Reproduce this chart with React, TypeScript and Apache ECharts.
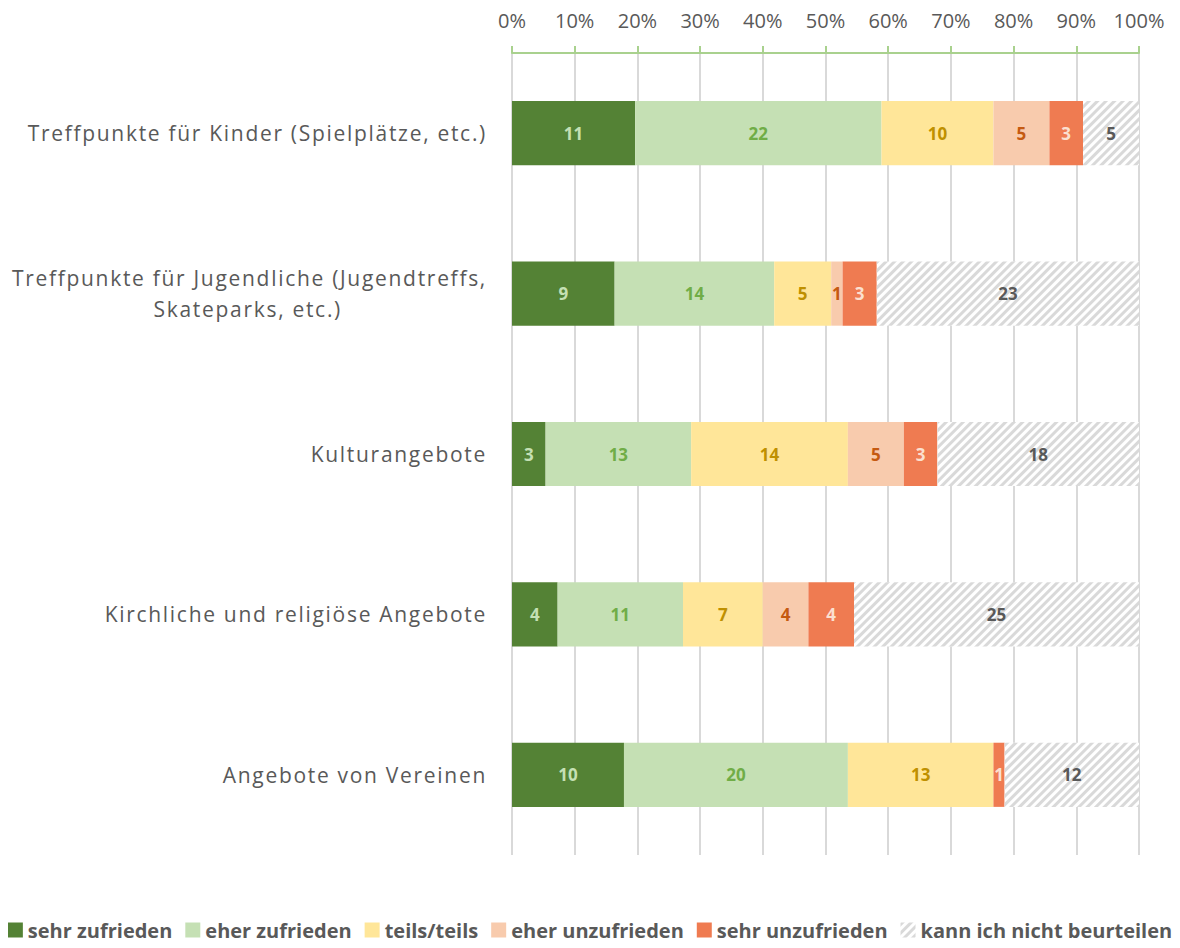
import React, { useEffect, useRef } from "react";
import * as echarts from "echarts";

const categories = [
  "Treffpunkte für Kinder (Spielplätze, etc.)",
  "Treffpunkte für Jugendliche (Jugendtreffs,\nSkateparks, etc.)",
  "Kulturangebote",
  "Kirchliche und religiöse Angebote",
  "Angebote von Vereinen",
];

const seriesNames = [
  "sehr zufrieden",
  "eher zufrieden",
  "teils/teils",
  "eher unzufrieden",
  "sehr unzufrieden",
  "kann ich nicht beurteilen",
];

const sehrZufrieden = [11, 9, 3, 4, 10];
const eherZufrieden = [22, 14, 13, 11, 20];
const teilsTeils = [10, 5, 14, 7, 13];
const eherUnzufrieden = [5, 1, 5, 4, 0];
const sehrUnzufrieden = [3, 3, 3, 4, 1];
const kannNicht = [5, 23, 18, 25, 12];

const tickLabels = ["0%", "10%", "20%", "30%", "40%", "50%", "60%", "70%", "80%", "90%", "100%"];

const counts = [sehrZufrieden, eherZufrieden, teilsTeils, eherUnzufrieden, sehrUnzufrieden, kannNicht];
const fillColors = ["#548235", "#C5E0B4", "#FFE699", "#F8CBAD", "#EF7B51", "#FFFFFF"];
const labelColors = ["#C5E0B4", "#70AD47", "#BF9000", "#C55A11", "#FBE0D0", "#595959"];

const totals = categories.map((_, i) => counts.reduce((s, arr) => s + arr[i], 0));

export default function App() {
  const ref = useRef<HTMLDivElement>(null);
  useEffect(() => {
    if (!ref.current) return;
    const chart = echarts.init(ref.current, undefined, { renderer: "svg" });
    const font = "'Open Sans', sans-serif";
    const catFont = "'Open Sans', Lato";
    const series = counts.map((arr, si) => ({
      name: seriesNames[si],
      type: "bar",
      stack: "total",
      barWidth: "40%",
      data: arr.map((v, i) => (v / totals[i]) * 100),
      itemStyle: si === 5
        ? {
            color: "#FFFFFF",
            decal: {
              symbol: "rect",
              symbolSize: 1,
              color: "#D9D9D9",
              dashArrayX: [1, 0],
              dashArrayY: [3, 3],
              rotation: -Math.PI / 4,
            },
          }
        : { color: fillColors[si] },
      label: {
        show: true,
        position: "inside",
        color: labelColors[si],
        fontFamily: font,
        fontWeight: "bold",
        fontSize: 17,
        formatter: (p: any) => {
          const v = arr[p.dataIndex];
          return v === 0 ? "" : String(v);
        },
      },
    }));
    chart.setOption({
      animation: false,
      grid: { left: 512, right: 41, top: 53, bottom: 93, containLabel: false },
      xAxis: {
        type: "value",
        position: "top",
        min: 0,
        max: 100,
        interval: 10,
        axisLine: { show: true, lineStyle: { color: "#A9D18E", width: 2 } },
        axisTick: { show: true, length: 7, lineStyle: { color: "#A9D18E", width: 2 } },
        axisLabel: {
          color: "#595959",
          fontFamily: font,
          fontSize: 20,
          margin: 23,
          formatter: (v: number) => tickLabels[Math.round(v / 10)],
        },
        splitLine: { show: true, lineStyle: { color: "#D9D9D9", width: 2 } },
      },
      yAxis: {
        type: "category",
        data: categories,
        inverse: true,
        axisLine: { show: false },
        axisTick: { show: false },
        axisLabel: {
          color: "#595959",
          fontFamily: catFont,
          fontSize: 21,
          margin: 25,
          lineHeight: 31,
          formatter: (v: string) => {
            if (!v.includes("\n")) return v;
            const [a, b] = v.split("\n");
            return `{a|${a}}\n{b|${b}}`;
          },
          rich: {
            a: { align: "right", color: "#595959", fontFamily: catFont, fontSize: 21, lineHeight: 31 },
            b: {
              align: "right",
              color: "#595959",
              fontFamily: catFont,
              fontSize: 21,
              lineHeight: 31,
              padding: [0, 145, 0, 0],
            },
          },
        },
      },
      legend: {
        bottom: 3,
        left: "center",
        itemWidth: 15,
        itemHeight: 15,
        itemGap: 13,
        icon: "rect",
        textStyle: { color: "#595959", fontFamily: font, fontWeight: "bold", fontSize: 20 },
        data: seriesNames,
      },
      series,
    });
    return () => chart.dispose();
  }, []);
  return (
    <>
      <style>{`#chartbox text[style*="Lato"]{letter-spacing:1.7px}`}</style>
      <div id="chartbox" ref={ref} style={{ width: 1180, height: 948, margin: -8 }} />
    </>
  );
}
